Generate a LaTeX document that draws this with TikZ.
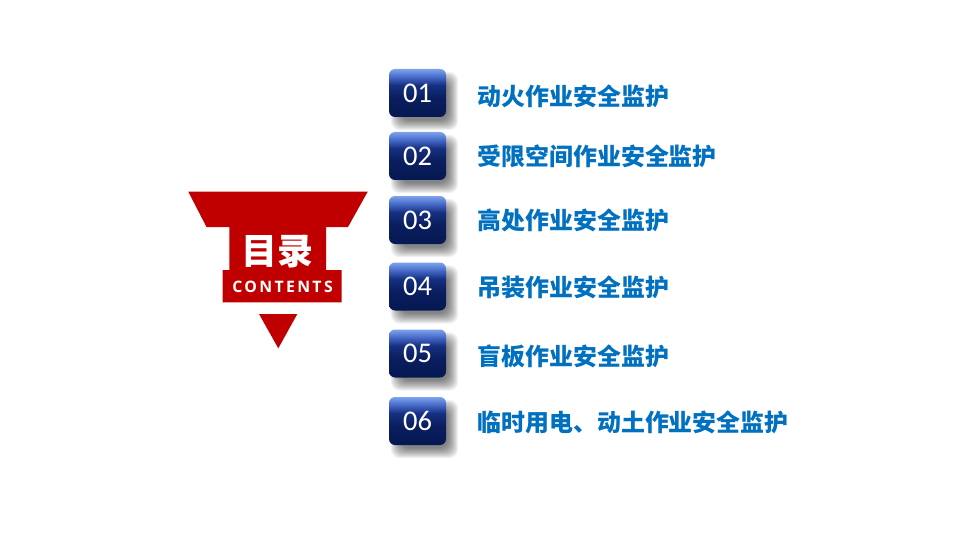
\documentclass[tikz,border=0pt]{standalone}
\usepackage{fontspec}
\newfontfamily\cjk{Noto Sans CJK SC}
\newfontfamily\numfont{Carlito}
\newfontfamily\ctfont{Open Sans}[LetterSpace=15]
\usetikzlibrary{calc,backgrounds}
\definecolor{embred}{RGB}{192,0,0}
\definecolor{itemblue}{RGB}{0,112,192}
\definecolor{nbLight}{RGB}{125,163,236}
\definecolor{nbMid}{RGB}{65,100,195}
\definecolor{nbDark}{RGB}{22,48,128}
\definecolor{nbNavy}{RGB}{10,30,95}
\definecolor{nbBottom}{RGB}{5,24,82}
\pgfdeclareverticalshading{numshade}{100bp}{color(0bp)=(nbBottom); color(25bp)=(nbBottom); color(45bp)=(nbNavy); color(58bp)=(nbDark); color(66bp)=(nbMid); color(75bp)=(nbLight); color(100bp)=(nbLight)}
\tikzset{
  numbox/.style={shading=numshade, rounded corners=6pt, minimum width=57pt, minimum height=48pt, inner sep=0pt, text=white, font=\numfont\fontsize{28.5}{31}\selectfont},
  itemtext/.style={anchor=base west, inner sep=0pt, text=itemblue, font=\cjk\bfseries\fontsize{23.9}{28}\selectfont},
  shadowlayer/.style={fill=black, opacity=0.055, rounded corners=9pt},
  emblem/.style={fill=embred, draw=none}
}
\begin{document}
\begin{tikzpicture}[x=1pt,y=-1pt]
\useasboundingbox (0,0) rectangle (960,540);

% emblem
\fill[emblem] (188.3,191.7) -- (367.7,191.7) -- (348,227) -- (326,227) -- (326,270) -- (341.7,270)
  -- (341.7,302.3) -- (222.7,302.3) -- (222.7,270) -- (229.3,270) -- (229.3,227) -- (206.5,227) -- cycle;
\fill[emblem] (259,314) -- (297.3,314) -- (278.3,348.3) -- cycle;
\node[anchor=base, inner sep=0pt, text=white, font=\cjk\bfseries\fontsize{36}{40}\selectfont] (title) at (277.5,264.5) {目录};
\node[anchor=base, inner sep=0pt, text=white, font=\ctfont\bfseries\fontsize{15.8}{17}\selectfont] (sub) at (282.5,292.5) {CONTENTS};

% number boxes
\foreach \i/\t/\cy in {1/01/93, 2/02/156, 3/03/220, 4/04/286.5, 5/05/353.5, 6/06/421}{
  \node[numbox] (n\i) at (417.5,\cy) {\t};
}
\begin{scope}[on background layer]
\fill[white] (0,0) rectangle (960,540);
\foreach \i in {1,...,6}{
  \foreach \k in {0,...,10}{
    \fill[shadowlayer] ($(n\i.north west)+(7-5+\k,8-5+\k)$) rectangle ($(n\i.south east)+(7+5-\k,8+5-\k)$);
  }
}
\end{scope}

% item texts
\node[itemtext] (t1) at (477.5,105.2) {动火作业安全监护};
\node[itemtext] (t2) at (477.5,165.5) {受限空间作业安全监护};
\node[itemtext] (t3) at (477.5,229.5) {高处作业安全监护};
\node[itemtext] (t4) at (477.5,296.5) {吊装作业安全监护};
\node[itemtext] (t5) at (477.5,365) {盲板作业安全监护};
\node[itemtext] (t6) at (477.5,431.5) {临时用电、动土作业安全监护};
\end{tikzpicture}
\end{document}
